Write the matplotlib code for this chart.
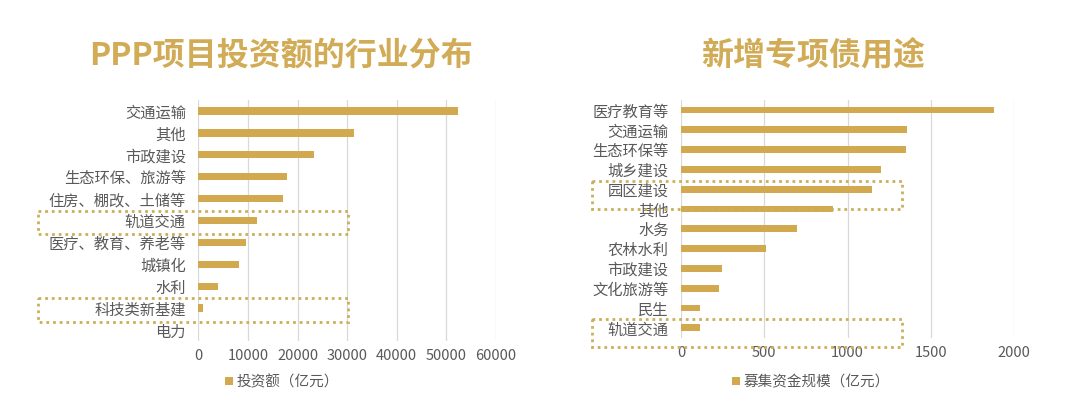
import matplotlib
matplotlib.use("Agg")
import matplotlib.pyplot as plt
import matplotlib.transforms as mtransforms
from matplotlib.patches import Rectangle
from matplotlib.patches import Patch

plt.rcParams['font.family'] = ['Noto Sans CJK SC', 'DejaVu Sans']

# ---- data ----
left_title = "PPP项目投资额的行业分布"
left_cats = ["交通运输", "其他", "市政建设", "生态环保、旅游等", "住房、棚改、土储等",
             "轨道交通", "医疗、教育、养老等", "城镇化", "水利", "科技类新基建", "电力"]
left_vals = [52300, 31400, 23400, 17900, 17100, 11800, 9600, 8200, 3900, 950, 0]
left_ticks = [0, 10000, 20000, 30000, 40000, 50000, 60000]
left_legend = "投资额（亿元）"
left_boxed = ["轨道交通", "科技类新基建"]

right_title = "新增专项债用途"
right_cats = ["医疗教育等", "交通运输", "生态环保等", "城乡建设", "园区建设", "其他",
              "水务", "农林水利", "市政建设", "文化旅游等", "民生", "轨道交通"]
right_vals = [1880, 1355, 1349, 1199, 1149, 911, 699, 509, 248, 230, 116, 116]
right_ticks = [0, 500, 1000, 1500, 2000]
right_legend = "募集资金规模（亿元）"
right_boxed = ["园区建设", "轨道交通"]

BAR = "#D2A94E"
TITLE = "#D1AB55"
BOX = "#C9B05C"
GRID = "#D9D9D9"
TXT = "#595959"

W, H = 1080, 393
fig = plt.figure(figsize=(W / 100, H / 100), dpi=100)
fig.patch.set_facecolor("white")


def fx(px):
    return px / W


def fy(py):
    return 1 - py / H


def make_panel(rect, cats, vals, ticks, xmax, boxed, box_x, box_y, legend_text, legend_xy):
    ax = fig.add_axes(rect)
    y = list(range(len(cats)))
    ax.barh(y, vals, height=0.34, color=BAR, zorder=3)
    ax.set_ylim(len(cats) - 0.5, -0.5)
    ax.set_xlim(0, xmax)
    ax.set_yticks(y)
    ax.set_yticklabels(cats, fontsize=11, color=TXT)
    ax.set_xticks(ticks)
    ax.set_xticklabels([str(t) for t in ticks], fontsize=10.5, color=TXT)
    ax.tick_params(axis='both', length=0)
    ax.tick_params(axis='y', pad=9)
    ax.tick_params(axis='x', pad=6)
    for s in ax.spines.values():
        s.set_visible(False)
    ax.grid(axis='x', color=GRID, linewidth=0.9, zorder=0)
    ax.set_axisbelow(True)
    trans = mtransforms.blended_transform_factory(ax.transAxes, ax.transData)
    for name in boxed:
        i = cats.index(name)
        r = Rectangle((box_x[0], i + box_y[0]), box_x[1] - box_x[0], box_y[1] - box_y[0],
                      transform=trans, fill=False, edgecolor=BOX, linewidth=2.0,
                      linestyle=(0, (1, 1.4)), clip_on=False, zorder=5)
        ax.add_patch(r)
    fig.legend(handles=[Patch(facecolor=BAR, edgecolor='none')], labels=[legend_text],
               loc='center', bbox_to_anchor=legend_xy, bbox_transform=fig.transFigure,
               frameon=False, fontsize=10.5, handlelength=0.55, handleheight=0.55,
               handletextpad=0.25, labelcolor=TXT, borderpad=0)
    return ax


# left panel
lx0, lx1, ly0, ly1 = 198.3, 496.0, 100.0, 341.0
make_panel([fx(lx0), fy(ly1), fx(lx1 - lx0), (ly1 - ly0) / H],
           left_cats, left_vals, left_ticks, 60000, left_boxed,
           (-0.538, 0.503), (-0.45, 0.62), left_legend, (fx(282), fy(382)))

# right panel
rx0, rx1, ry0, ry1 = 681.0, 1014.0, 100.1, 337.7
make_panel([fx(rx0), fy(ry1), fx(rx1 - rx0), (ry1 - ry0) / H],
           right_cats, right_vals, right_ticks, 2000, right_boxed,
           (-0.267, 0.664), (-0.42, 0.98), right_legend, (fx(811), fy(382)))

fig.text(fx(281.5), fy(56), left_title, ha='center', va='center', fontsize=23,
         fontweight='bold', color=TITLE)
fig.text(fx(813.5), fy(56), right_title, ha='center', va='center', fontsize=23,
         fontweight='bold', color=TITLE)

fig.savefig("out.png", dpi=100, facecolor="white")
